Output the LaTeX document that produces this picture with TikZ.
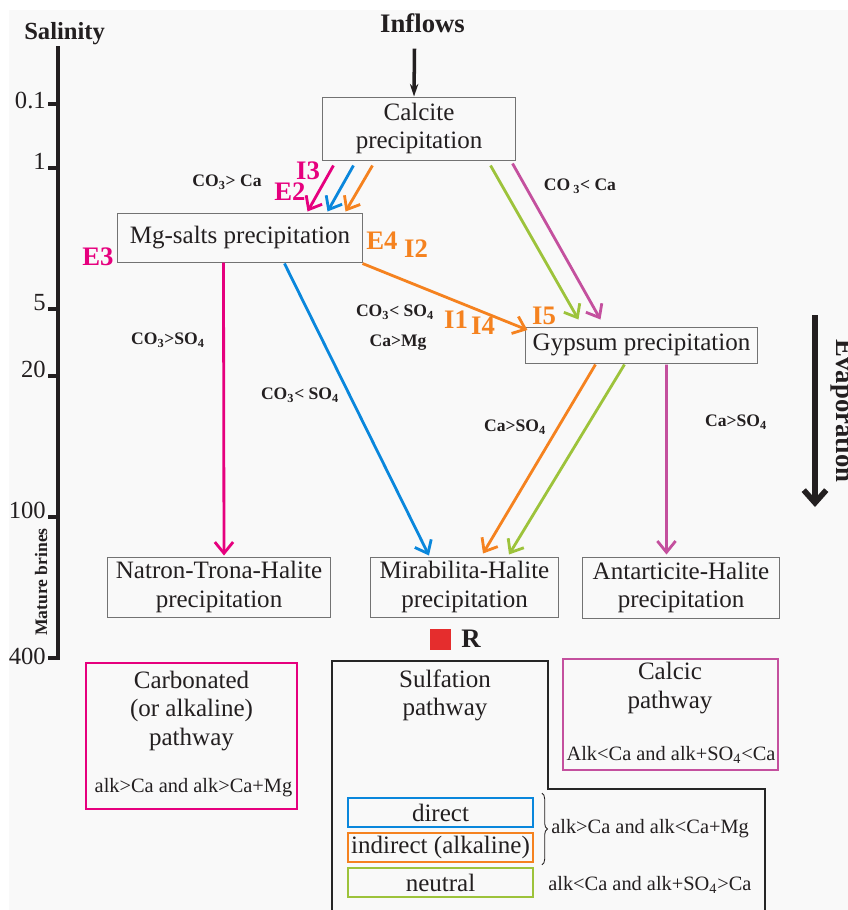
\documentclass[tikz,border=0pt]{standalone}
\usepackage{fontspec}
\setmainfont{Liberation Serif}
\usetikzlibrary{arrows.meta,positioning,calc,decorations.pathreplacing}

\definecolor{bgcol}{HTML}{F9F9F9}
\definecolor{inkcol}{HTML}{231F20}
\definecolor{carbcol}{HTML}{E6007E}
\definecolor{dircol}{HTML}{0A87DC}
\definecolor{indcol}{HTML}{F5821F}
\definecolor{neucol}{HTML}{9DC33B}
\definecolor{calccol}{HTML}{C4509E}
\definecolor{rcol}{HTML}{E52D2D}

\newcommand{\boxfont}{\fontsize{17.8}{20}\selectfont}
\newcommand{\condfont}{\fontsize{14.5}{17}\selectfont}
\newcommand{\chemfont}{\fontsize{12.5}{14}\selectfont\bfseries}
\newcommand{\tagfont}{\fontsize{19}{21}\selectfont\bfseries}

\begin{document}
\begin{tikzpicture}[x=0.025cm, y=-0.025cm, text=inkcol,
    stage/.style={draw=black!55, line width=0.7pt, align=center, inner sep=0pt, font=\boxfont},
    flow/.style={line width=2pt, -{Straight Barb[length=8pt,width=13pt]}},
    chem/.style={font=\chemfont, inner sep=0pt},
    tag/.style={font=\tagfont, inner sep=0pt},
    cond/.style={font=\condfont, inner sep=0pt},
    legendbox/.style={line width=1.2pt, minimum width=4.625cm, minimum height=0.725cm, inner sep=0pt, font=\boxfont}]

    % background and page
    \useasboundingbox (0,0) rectangle (848,910);
    \fill[bgcol] (9,10) rectangle (848,910);

    % salinity axis
    \node[font=\fontsize{17.5}{20}\selectfont\bfseries, anchor=base west, inner sep=0pt] (salinity) at (24,39) {Salinity};
    \draw[line width=2.8pt, draw=inkcol] (58,46) -- (58,660);
    \foreach \v/\y/\b in {0.1/104/4, 1/168/1, 5/309/1, 20/376/1, 100/517/1, 400/658/6} {
        \draw[line width=2.4pt, draw=inkcol] (48,\y) -- (58,\y);
        \node[font=\fontsize{17.5}{20}\selectfont, anchor=base east, inner sep=0pt] at (46,\y+\b) {\v};
    }
    \node[font=\fontsize{12.5}{14}\selectfont\bfseries, rotate=90, anchor=base, inner sep=0pt] (mature) at (47,582) {Mature brines};

    % inflows
    \node[font=\fontsize{19}{21}\selectfont\bfseries, anchor=base, inner sep=0pt] (inflows) at (422.5,32) {Inflows};

    % the precipitation stages
    \node[stage, minimum width=4.8cm, minimum height=1.575cm] (calcite) at (419,128.5) {Calcite\\precipitation};
    \node[stage, minimum width=6.1cm, minimum height=1.225cm] (mgsalts) at (240,237.5) {Mg-salts precipitation};
    \node[stage, minimum width=5.775cm, minimum height=0.9cm] (gypsum) at (641.5,345) {Gypsum precipitation};
    \node[stage, minimum width=5.55cm, minimum height=1.5cm] (natron) at (219,587) {Natron-Trona-Halite\\precipitation};
    \node[stage, minimum width=4.7cm, minimum height=1.5cm] (mirab) at (464.5,587) {Mirabilita-Halite\\precipitation};
    \node[stage, minimum width=4.9cm, minimum height=1.525cm] (antar) at (681,587.5) {Antarticite-Halite\\precipitation};

    \draw[line width=2.5pt, draw=inkcol, -{Stealth[length=9pt,width=6pt]}] ($(inflows.south)+(-8,16)$) -- ($(calcite.north)+(-5,0)$);

    % calcite to Mg-salts
    \draw[flow, carbcol] ($(calcite.south west)+(11,5)$) -- ($(mgsalts.north east)+(-55,-1)$);
    \draw[flow, dircol] ($(calcite.south west)+(31,5)$) -- ($(mgsalts.north east)+(-35,-1)$);
    \draw[flow, indcol] ($(calcite.south west)+(50,5)$) -- ($(mgsalts.north east)+(-17,-1)$);

    % calcite to gypsum
    \draw[flow, neucol] ($(calcite.south east)+(-25,5)$) -- ($(gypsum.north west)+(53,-7)$);
    \draw[flow, calccol] ($(calcite.south east)+(-3,3)$) -- ($(gypsum.north west)+(75,-7)$);

    % Mg-salts onwards
    \draw[flow, indcol] ($(mgsalts.south east)+(0,1)$) -- ($(gypsum.west)+(2,-15)$);
    \draw[flow, carbcol] ($(mgsalts.south west)+(106,0)$) -- ($(natron.north)+(5,-1)$);
    \draw[flow, dircol] ($(mgsalts.south west)+(167,1)$) -- ($(mirab.north west)+(59,-1)$);

    % gypsum onwards
    \draw[flow, indcol] ($(gypsum.south west)+(70,1)$) -- ($(mirab.north east)+(-76,-3)$);
    \draw[flow, neucol] ($(gypsum.south west)+(99,1)$) -- ($(mirab.north east)+(-50,-2)$);
    \draw[flow, calccol] ($(gypsum.south west)+(141,1)$) -- ($(antar.north west)+(84,-2)$);

    % path tags
    \node[tag, text=carbcol] (i3) at (308,171) {I3};
    \node[tag, text=carbcol] (e2) at (290,192) {E2};
    \node[tag, text=carbcol] (e3) at (98,257) {E3};
    \node[tag, text=indcol] (e4) at (382,241) {E4};
    \node[tag, text=indcol] (i2) at (416,249) {I2};
    \node[tag, text=indcol] (i1) at (456,320) {I1};
    \node[tag, text=indcol] (i4) at (483,326) {I4};
    \node[tag, text=indcol] (i5) at (544,316) {I5};

    % ratios along the arrows
    \node[chem] (cogtca) at (227,182) {CO\textsubscript{3}> Ca};
    \node[chem] (coltca) at (580,186) {CO\,\textsubscript{3}< Ca};
    \node[chem] (cogtso) at (168,340) {CO\textsubscript{3}>SO\textsubscript{4}};
    \node[chem] (coltsoa) at (300,395) {CO\textsubscript{3}< SO\textsubscript{4}};
    \node[chem] (coltsob) at (395,312) {CO\textsubscript{3}< SO\textsubscript{4}};
    \node[chem] (cagtmg) at (398,343) {Ca>Mg};
    \node[chem] (cagtsoa) at (515,427) {Ca>SO\textsubscript{4}};
    \node[chem] (cagtsob) at (736,422) {Ca>SO\textsubscript{4}};

    % evaporation
    \coordinate (evtop) at (815,315);
    \coordinate (evbot) at (815,507);
    \draw[line width=4pt, draw=inkcol, -{Straight Barb[length=9pt,width=16pt]}] (evtop) -- (evbot);
    \node[font=\fontsize{19}{21}\selectfont\bfseries, rotate=-90, anchor=base, inner sep=0pt] (evap) at (836,411) {Evaporation};

    % R marker
    \node[fill=rcol, minimum size=0.525cm, inner sep=0pt] (rsq) at (440.5,639) {};
    \node[tag, right=7pt of rsq] (rtag) {R};

    % carbonated pathway
    \node[draw=carbcol, line width=1.4pt, minimum width=5.275cm, minimum height=3.65cm, inner sep=0pt] (carbbox) at (191.5,736) {};
    \node[font=\boxfont, align=center, inner sep=0pt] (carbtitle) at (191.5,711) {Carbonated\\(or alkaline)\\pathway};
    \node[cond] (carbcond) at (193.5,788) {alk>Ca and alk>Ca+Mg};

    % sulfation pathway
    \draw[line width=1.8pt, draw=black!85] (332,912) |- (548,661) |- (765,789) -- (765,912);
    \node[font=\boxfont, align=center, inner sep=0pt] (sulftitle) at (445,695) {Sulfation\\pathway};
    \node[legendbox, draw=dircol] (direct) at (440.5,812.5) {direct};
    \node[legendbox, draw=indcol] (indirect) at (440.5,847.5) {indirect (alkaline)};
    \node[legendbox, draw=neucol] (neutral) at (440.5,882.5) {neutral};
    \draw[line width=0.6pt, draw=inkcol, decorate, decoration={brace, amplitude=4pt}] ($(direct.north east)+(8,-4)$) -- ($(indirect.south east)+(8,2)$);
    \node[cond, anchor=west] (dircond) at (551,829) {alk>Ca and alk<Ca+Mg};
    \node[cond, anchor=west] (neucond) at (548,885) {alk<Ca and alk+SO\textsubscript{4}>Ca};

    % calcic pathway
    \node[draw=calccol, line width=1.4pt, minimum width=5.375cm, minimum height=2.775cm, inner sep=0pt] (calcbox) at (670.5,714.5) {};
    \node[font=\boxfont, align=center, inner sep=0pt] (calctitle) at (670,688) {Calcic\\pathway};
    \node[cond] (calccond) at (671,755) {Alk<Ca and alk+SO\textsubscript{4}<Ca};
\end{tikzpicture}
\end{document}
